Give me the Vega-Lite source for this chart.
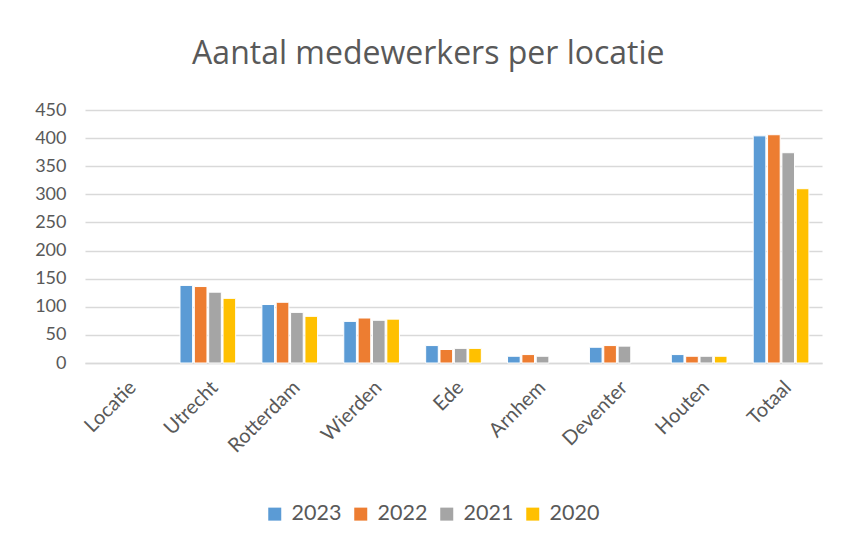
{
  "$schema": "https://vega.github.io/schema/vega-lite/v6.json",
  "width": 737,
  "height": 253,
  "autosize": {"type": "none"},
  "padding": {"left": 85, "top": 110, "right": 19, "bottom": 183},
  "background": "white",
  "title": {
    "text": "Aantal medewerkers per locatie",
    "font": "Open Sans",
    "fontSize": 32,
    "fontWeight": "normal",
    "color": "#595959",
    "anchor": "middle",
    "frame": "bounds",
    "offset": 30
  },
  "data": {
    "values": [
      {"locatie": "Utrecht", "jaar": "2023", "aantal": 138},
      {"locatie": "Utrecht", "jaar": "2022", "aantal": 136},
      {"locatie": "Utrecht", "jaar": "2021", "aantal": 126},
      {"locatie": "Utrecht", "jaar": "2020", "aantal": 115},
      {"locatie": "Rotterdam", "jaar": "2023", "aantal": 104},
      {"locatie": "Rotterdam", "jaar": "2022", "aantal": 108},
      {"locatie": "Rotterdam", "jaar": "2021", "aantal": 90},
      {"locatie": "Rotterdam", "jaar": "2020", "aantal": 83},
      {"locatie": "Wierden", "jaar": "2023", "aantal": 74},
      {"locatie": "Wierden", "jaar": "2022", "aantal": 80},
      {"locatie": "Wierden", "jaar": "2021", "aantal": 76},
      {"locatie": "Wierden", "jaar": "2020", "aantal": 78},
      {"locatie": "Ede", "jaar": "2023", "aantal": 31},
      {"locatie": "Ede", "jaar": "2022", "aantal": 24},
      {"locatie": "Ede", "jaar": "2021", "aantal": 26},
      {"locatie": "Ede", "jaar": "2020", "aantal": 26},
      {"locatie": "Arnhem", "jaar": "2023", "aantal": 12},
      {"locatie": "Arnhem", "jaar": "2022", "aantal": 15},
      {"locatie": "Arnhem", "jaar": "2021", "aantal": 12},
      {"locatie": "Deventer", "jaar": "2023", "aantal": 28},
      {"locatie": "Deventer", "jaar": "2022", "aantal": 31},
      {"locatie": "Deventer", "jaar": "2021", "aantal": 30},
      {"locatie": "Houten", "jaar": "2023", "aantal": 15},
      {"locatie": "Houten", "jaar": "2022", "aantal": 12},
      {"locatie": "Houten", "jaar": "2021", "aantal": 12},
      {"locatie": "Houten", "jaar": "2020", "aantal": 12},
      {"locatie": "Totaal", "jaar": "2023", "aantal": 404},
      {"locatie": "Totaal", "jaar": "2022", "aantal": 406},
      {"locatie": "Totaal", "jaar": "2021", "aantal": 374},
      {"locatie": "Totaal", "jaar": "2020", "aantal": 310}
    ]
  },
  "mark": {"type": "bar", "stroke": "white", "strokeWidth": 1},
  "encoding": {
    "x": {
      "field": "locatie",
      "type": "nominal",
      "scale": {
        "domain": ["Locatie", "Utrecht", "Rotterdam", "Wierden", "Ede", "Arnhem", "Deventer", "Houten", "Totaal"],
        "paddingInner": 0.32,
        "paddingOuter": 0.16
      },
      "axis": {
        "title": null,
        "labelAngle": -45,
        "labelFont": "Lato",
        "labelFontSize": 20,
        "labelColor": "#595959",
        "labelPadding": 14,
        "ticks": false,
        "domainColor": "#d9d9d9",
        "domainWidth": 1.5
      }
    },
    "xOffset": {
      "field": "jaar",
      "type": "nominal",
      "sort": ["2023", "2022", "2021", "2020"],
      "scale": {"paddingInner": 0.12}
    },
    "y": {
      "field": "aantal",
      "type": "quantitative",
      "scale": {"domain": [0, 450], "nice": false},
      "axis": {
        "title": null,
        "values": [0, 50, 100, 150, 200, 250, 300, 350, 400, 450],
        "labelFont": "Lato",
        "labelFontSize": 18,
        "labelColor": "#595959",
        "labelPadding": 19,
        "ticks": false,
        "domain": false,
        "gridColor": "#d9d9d9",
        "gridWidth": 1.5
      }
    },
    "color": {
      "field": "jaar",
      "type": "nominal",
      "sort": ["2023", "2022", "2021", "2020"],
      "scale": {
        "domain": ["2023", "2022", "2021", "2020"],
        "range": ["#5B9BD5", "#ED7D31", "#A5A5A5", "#FFC000"]
      },
      "legend": {
        "title": null,
        "orient": "none",
        "direction": "horizontal",
        "legendX": 179,
        "legendY": 393,
        "symbolType": "square",
        "symbolSize": 169,
        "symbolStrokeWidth": 0,
        "labelFont": "Lato",
        "labelFontSize": 21.5,
        "labelColor": "#595959",
        "labelOffset": 6,
        "columnPadding": 8
      }
    }
  },
  "config": {"view": {"stroke": null}}
}
